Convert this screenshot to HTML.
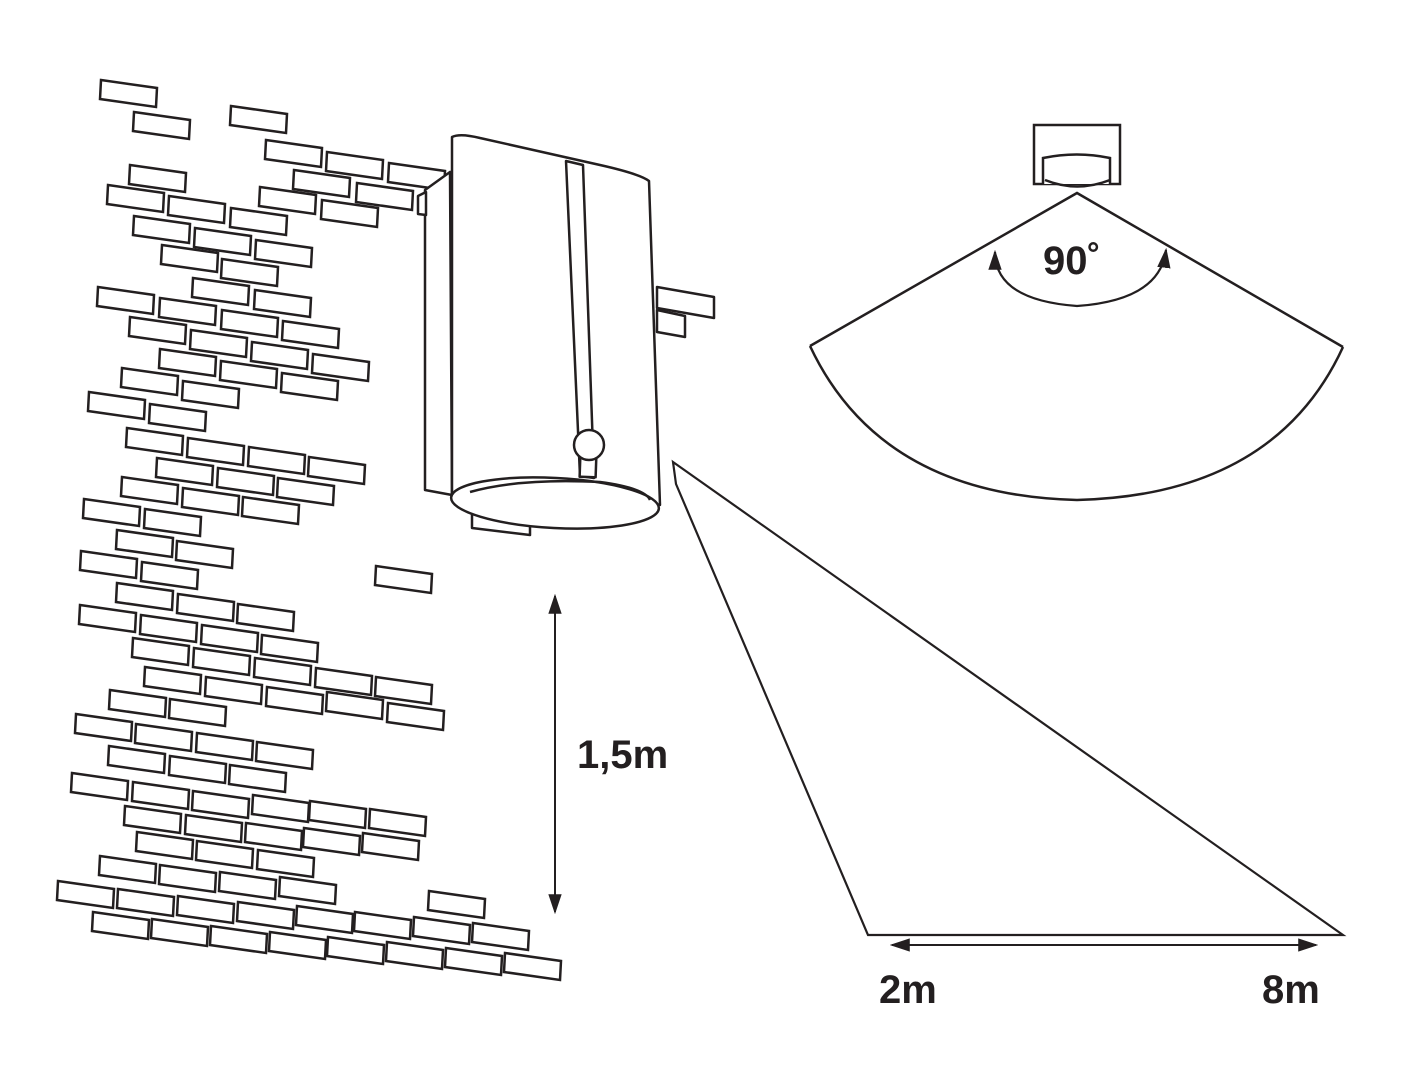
<!DOCTYPE html>
<html><head><meta charset="utf-8"><style>
html,body{margin:0;padding:0;background:#fff;}
svg{display:block;}
text{font-family:"Liberation Sans",sans-serif;font-weight:bold;fill:#231f20;}
</style></head><body>
<svg width="1423" height="1080" viewBox="0 0 1423 1080" xmlns="http://www.w3.org/2000/svg">
<defs>
<marker id="ah2" markerWidth="20" markerHeight="20" refX="16" refY="7" orient="auto-start-reverse" markerUnits="userSpaceOnUse" viewBox="0 0 18 14"><path d="M0,1 L18,7 L0,13 z" fill="#231f20"/></marker>
</defs>
<g fill="#fff" stroke="#231f20" stroke-width="2.5" id="bricks"></g>
<g fill="#fff" stroke="#231f20" stroke-width="2.5" stroke-linejoin="round">
  <polygon points="425,190 450,172 452,495 425,490"/>
  <polygon points="418,196 426,192 426,215 418,214"/>
  <polygon points="657,287 714,297 714,318 657,308"/>
  <polygon points="657,310 685,316 685,337 657,332"/>
  <polygon points="472,510 530,516 530,535 472,528"/>
  <path d="M452,137 Q460,133 480,138 L600,165 Q640,174 649,181 L660,505 L452,495 Z"/>
  <ellipse cx="555" cy="503" rx="104" ry="25" transform="rotate(3 555 503)"/>
  <path d="M470,492 Q520,478 600,482 Q645,488 650,500" fill="none"/>
  <polygon points="566,161 583,165 594,478 580,476"/>
  <rect x="580" y="455" width="16" height="22" transform="rotate(2 588 466)"/>
  <circle cx="589" cy="445" r="15"/>
</g>
<g fill="none" stroke="#231f20" stroke-width="2.5">
  <rect x="1034" y="125" width="86" height="59" fill="#fff"/>
  <path d="M1043,184 L1043,158 Q1077,151 1110,158 L1110,184" fill="#fff"/>
  <path d="M1045,180 Q1077,193 1110,180"/>
  <path d="M810,346 L1077,193 L1343,347"/>
  <path d="M810,346 Q880,495 1077,500 Q1275,495 1343,347"/>
  <path d="M995,252 Q995,300 1077,306 Q1160,300 1166,250" stroke-width="2.2" marker-start="url(#ah2)" marker-end="url(#ah2)"/>
  <path d="M673,462 L1343,935 L868,935 L676,484 Z" stroke-width="2.2"/>
  <line x1="892" y1="945" x2="1316" y2="945" stroke-width="2" marker-start="url(#ah2)" marker-end="url(#ah2)"/>
  <line x1="555" y1="596" x2="555" y2="912" stroke-width="2" marker-start="url(#ah2)" marker-end="url(#ah2)"/>
</g>
<text x="1043" y="274" font-size="40">90˚</text>
<text x="577" y="768" font-size="40">1,5m</text>
<text x="879" y="1003" font-size="40">2m</text>
<text x="1262" y="1003" font-size="40">8m</text>
</svg>
<script>
var b=[[101,80],[134,112],[231,106],[266,140],[327,152],[389,163],[130,165],[294,170],[357,183],[108,185],[169,196],[231,208],[260,187],[322,200],[134,216],[195,228],[256,240],[162,245],[222,259],[193,278],[255,290],[98,287],[160,298],[222,310],[283,321],[130,317],[191,330],[252,342],[313,354],[160,349],[221,361],[282,373],[122,368],[183,381],[89,392],[150,404],[127,428],[188,438],[249,447],[309,457],[157,458],[218,468],[278,478],[122,477],[183,488],[243,497],[84,499],[145,509],[117,530],[177,541],[81,551],[142,562],[376,566],[117,583],[178,594],[238,604],[80,605],[141,615],[202,625],[262,635],[133,638],[194,648],[255,658],[316,668],[376,677],[145,667],[206,677],[267,687],[327,692],[388,703],[110,690],[170,699],[76,714],[136,724],[197,733],[257,742],[109,746],[170,756],[230,765],[72,773],[133,782],[193,791],[253,795],[310,801],[370,809],[125,806],[186,815],[246,823],[304,828],[363,833],[137,832],[197,841],[258,850],[100,856],[160,865],[220,872],[280,877],[429,891],[58,881],[118,889],[178,896],[238,902],[297,906],[355,912],[414,917],[473,923],[93,912],[152,919],[211,926],[270,932],[328,937],[387,942],[446,948],[505,953]];
var g=document.getElementById('bricks'),s='';
b.forEach(function(p){var x=p[0],y=p[1];s+='<polygon points="'+x+','+y+' '+(x+56)+','+(y+8)+' '+(x+55)+','+(y+27)+' '+(x-1)+','+(y+19)+'"/>';});
g.innerHTML=s;
</script>
</body></html>
